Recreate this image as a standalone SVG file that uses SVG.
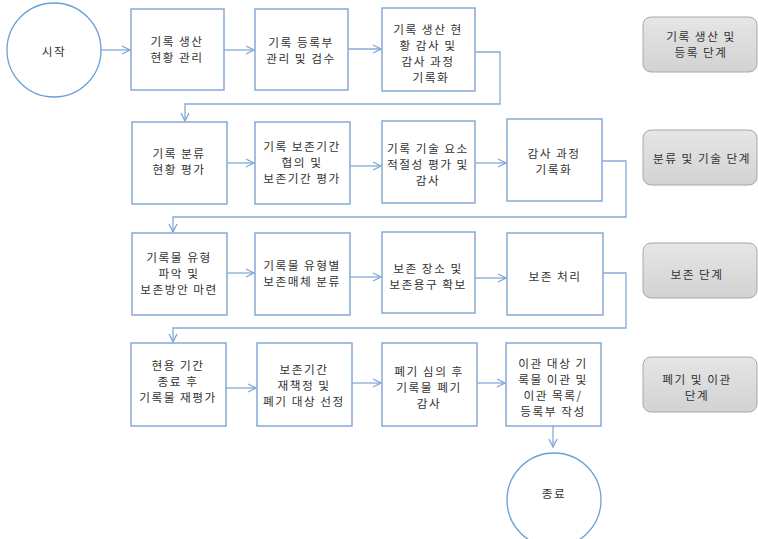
<svg xmlns="http://www.w3.org/2000/svg" width="758" height="539" viewBox="0 0 758 539">
<defs>
<marker id="ah" viewBox="0 0 10 10" refX="9" refY="5" markerWidth="10" markerHeight="10" markerUnits="userSpaceOnUse" orient="auto">
<path d="M1,1 L9,5 L1,9" fill="none" stroke="#7ea6d6" stroke-width="1.3"/>
</marker>
<linearGradient id="gg" x1="0" y1="0" x2="0" y2="1">
<stop offset="0" stop-color="#e6e6e6"/>
<stop offset="1" stop-color="#d2d2d2"/>
</linearGradient>
<style>
.b{fill:#fff;stroke:#86a9d6;stroke-width:1.5}
.c{fill:#fff;stroke:#6aa0d8;stroke-width:1.3}
.s{fill:url(#gg);stroke:#a8a8a8;stroke-width:1}
.l{fill:none;stroke:#86abd8;stroke-width:1.3}
text{font-family:"Noto Sans CJK KR","Noto Sans",sans-serif;font-size:11.7px;fill:#333;text-anchor:middle;dominant-baseline:central;letter-spacing:1.5px}
</style>
</defs>
<rect width="758" height="539" fill="#fff"/>
<g id="connectors">
<line class="l" x1="101" y1="50" x2="130" y2="50" marker-end="url(#ah)"/>
<line class="l" x1="224" y1="50" x2="254" y2="50" marker-end="url(#ah)"/>
<line class="l" x1="348" y1="49" x2="381" y2="49" marker-end="url(#ah)"/>
<polyline class="l" points="475,52 500,52 500,104 185,104 185,121" marker-end="url(#ah)"/>
<line class="l" x1="227" y1="163" x2="254" y2="163" marker-end="url(#ah)"/>
<line class="l" x1="350" y1="166" x2="381" y2="166" marker-end="url(#ah)"/>
<line class="l" x1="475" y1="163" x2="506" y2="163" marker-end="url(#ah)"/>
<polyline class="l" points="602,161 626,161 626,217 173,217 173,232" marker-end="url(#ah)"/>
<line class="l" x1="227" y1="273" x2="254" y2="273" marker-end="url(#ah)"/>
<line class="l" x1="350" y1="277" x2="381" y2="277" marker-end="url(#ah)"/>
<line class="l" x1="475" y1="278" x2="506" y2="278" marker-end="url(#ah)"/>
<polyline class="l" points="603,273 626,273 626,328 173,328 173,342" marker-end="url(#ah)"/>
<line class="l" x1="226" y1="388" x2="256" y2="388" marker-end="url(#ah)"/>
<line class="l" x1="352" y1="383" x2="381" y2="383" marker-end="url(#ah)"/>
<line class="l" x1="477" y1="383" x2="505" y2="383" marker-end="url(#ah)"/>
<line class="l" x1="553" y1="426" x2="553" y2="447" marker-end="url(#ah)"/>
</g>
<g id="start"><circle class="c" cx="54" cy="50" r="47"/><text x="54" y="50">시작</text></g>
<g id="n11"><rect class="b" x="131" y="9" width="93" height="81"/><text x="177" y="40">기록 생산</text><text x="177" y="56">현황 관리</text></g>
<g id="n12"><rect class="b" x="255" y="9" width="93" height="81"/><text x="301" y="41">기록 등록부</text><text x="301" y="57">관리 및 검수</text></g>
<g id="n13"><rect class="b" x="382" y="8" width="93" height="83"/><text x="428" y="28">기록 생산 현</text><text x="428" y="44">황 감사 및</text><text x="428" y="60">감사 과정</text><text x="431" y="76">기록화</text></g>
<g id="n21"><rect class="b" x="132" y="122" width="95" height="82"/><text x="179" y="152">기록 분류</text><text x="179" y="168">현황 평가</text></g>
<g id="n22"><rect class="b" x="255" y="122" width="95" height="82"/><text x="302" y="145">기록 보존기간</text><text x="302" y="161">협의 및</text><text x="302" y="177">보존기간 평가</text></g>
<g id="n23"><rect class="b" x="382" y="121" width="93" height="82"/><text x="428" y="147">기록 기술 요소</text><text x="428" y="163">적절성 평가 및</text><text x="428" y="179">감사</text></g>
<g id="n24"><rect class="b" x="507" y="119" width="95" height="82"/><text x="554" y="152">감사 과정</text><text x="554" y="168">기록화</text></g>
<g id="n31"><rect class="b" x="132" y="233" width="95" height="82"/><text x="179" y="256">기록물 유형</text><text x="179" y="272">파악 및</text><text x="179" y="288">보존방안 마련</text></g>
<g id="n32"><rect class="b" x="255" y="233" width="95" height="82"/><text x="302" y="264">기록물 유형별</text><text x="302" y="280">보존매체 분류</text></g>
<g id="n33"><rect class="b" x="382" y="232" width="93" height="81"/><text x="428" y="267">보존 장소 및</text><text x="428" y="283">보존용구 확보</text></g>
<g id="n34"><rect class="b" x="507" y="233" width="96" height="82"/><text x="555" y="275">보존 처리</text></g>
<g id="n41"><rect class="b" x="131" y="343" width="95" height="83"/><text x="178" y="364">현용 기간</text><text x="178" y="380">종료 후</text><text x="178" y="396">기록물 재평가</text></g>
<g id="n42"><rect class="b" x="257" y="343" width="95" height="83"/><text x="304" y="368">보존기간</text><text x="304" y="384">재책정 및</text><text x="304" y="400">폐기 대상 선정</text></g>
<g id="n43"><rect class="b" x="382" y="343" width="95" height="83"/><text x="429" y="370">폐기 심의 후</text><text x="429" y="386">기록물 폐기</text><text x="429" y="402">감사</text></g>
<g id="n44"><rect class="b" x="506" y="343" width="95" height="83"/><text x="553" y="362">이관 대상 기</text><text x="553" y="378">록물 이관 및</text><text x="553" y="394">이관 목록/</text><text x="553" y="410">등록부 작성</text></g>
<g id="end"><circle class="c" cx="554" cy="500" r="47"/><text x="554" y="492">종료</text></g>
<g id="stage1"><rect class="s" x="643" y="17" width="114" height="55" rx="8"/><text x="701" y="35">기록 생산 및</text><text x="701" y="51">등록 단계</text></g>
<g id="stage2"><rect class="s" x="643" y="130" width="114" height="55" rx="8"/><text x="702" y="157">분류 및 기술 단계</text></g>
<g id="stage3"><rect class="s" x="643" y="243" width="114" height="55" rx="8"/><text x="697" y="273">보존 단계</text></g>
<g id="stage4"><rect class="s" x="643" y="357" width="114" height="55" rx="8"/><text x="697" y="378">폐기 및 이관</text><text x="697" y="394">단계</text></g>
</svg>
